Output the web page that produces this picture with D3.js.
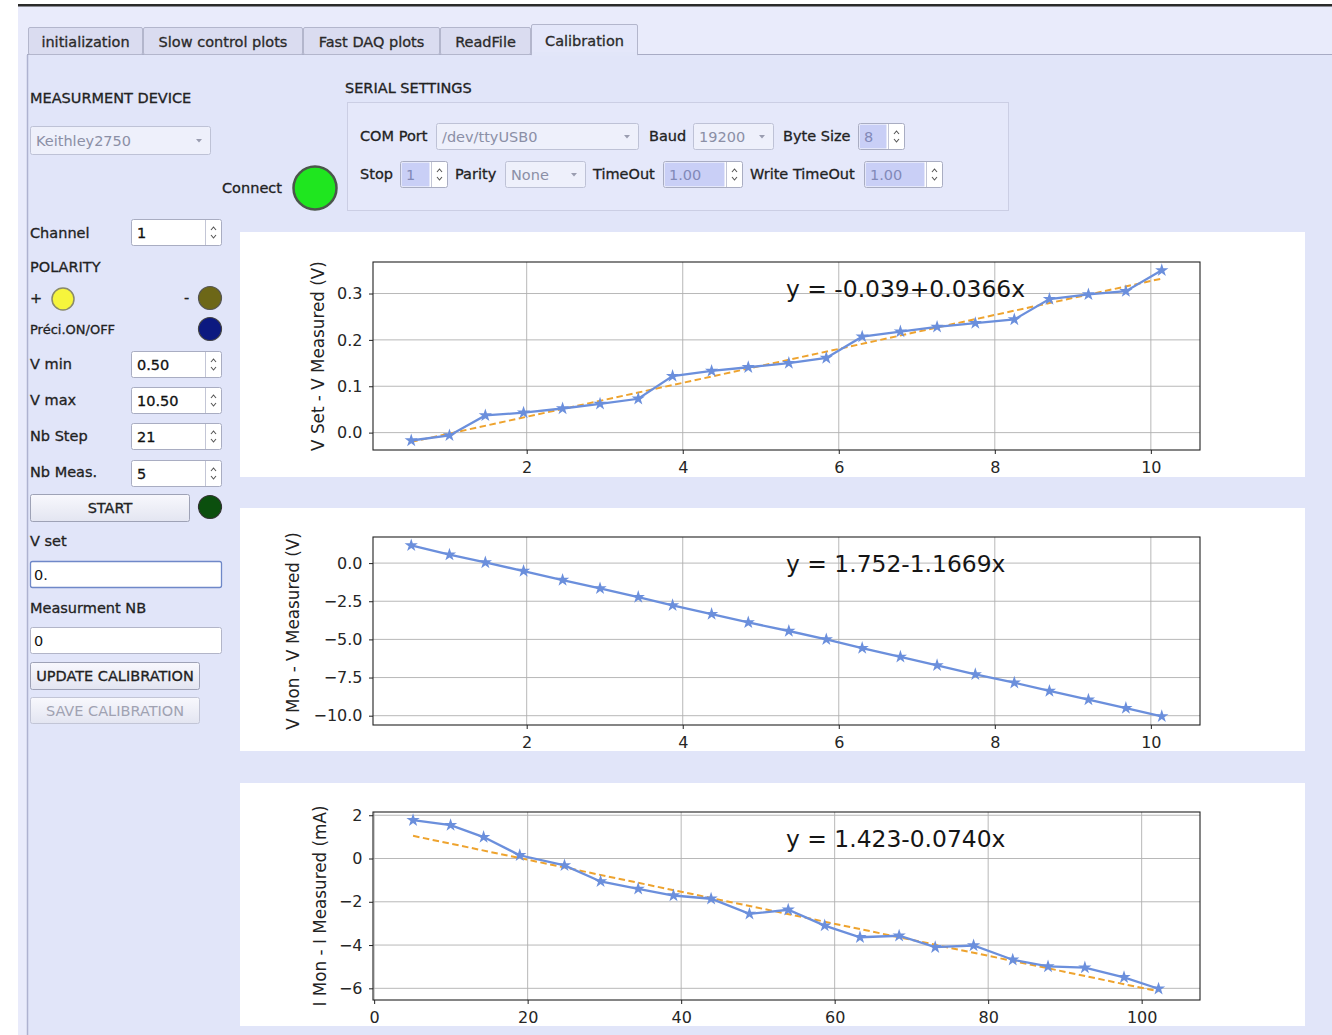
<!DOCTYPE html>
<html><head><meta charset="utf-8">
<script src="https://cdn.jsdelivr.net/npm/d3@7"></script>
<style>
html,body{margin:0;padding:0;background:#fff;}
svg{display:block;font-family:"DejaVu Sans",sans-serif;}
</style></head>
<body>
<svg id="root" width="1332" height="1035"></svg>
<script>
// ---------------- DATA ----------------
const tabs = ["initialization","Slow control plots","Fast DAQ plots","ReadFile","Calibration"];
const xVolt = [0.52,1.01,1.47,1.96,2.46,2.94,3.43,3.87,4.37,4.84,5.36,5.84,6.30,6.79,7.26,7.75,8.25,8.70,9.20,9.68,10.14];
const dSet  = [-0.017,-0.006,0.037,0.043,0.052,0.062,0.073,0.122,0.133,0.141,0.150,0.161,0.207,0.218,0.228,0.236,0.244,0.288,0.298,0.305,0.350];
const dMon  = [1.16,0.55,0.04,-0.52,-1.11,-1.66,-2.23,-2.77,-3.34,-3.89,-4.45,-5.00,-5.57,-6.14,-6.70,-7.29,-7.84,-8.38,-8.95,-9.50,-10.04];
const xCurr = [5.07,9.96,14.26,18.97,24.8,29.5,34.4,39.0,43.9,48.9,53.95,58.7,63.3,68.4,73.1,78.1,83.2,87.8,92.6,97.7,102.2];
const dCurr = [1.77,1.54,0.99,0.15,-0.32,-1.06,-1.40,-1.71,-1.86,-2.56,-2.37,-3.10,-3.64,-3.57,-4.10,-4.02,-4.68,-4.99,-5.04,-5.49,-6.02];
const fitSet  = [-0.039, 0.0366];
const fitMon  = [1.752, -1.1669];
const fitCurr = [1.423, -0.0740];
const ticksXVolt = [2,4,6,8,10];
const ticksXCurr = [0,20,40,60,80,100];
const ticksSet  = [0.0,0.1,0.2,0.3];
const ticksMon  = [0.0,-2.5,-5.0,-7.5,-10.0];
const ticksCurr = [2,0,-2,-4,-6];

// ---------------- UI ----------------
const svg = d3.select("#root");
const defs = svg.append("defs");
const g1 = defs.append("linearGradient").attr("id","btn").attr("x1",0).attr("y1",0).attr("x2",0).attr("y2",1);
g1.append("stop").attr("offset","0%").attr("stop-color","#f8f8fd");
g1.append("stop").attr("offset","100%").attr("stop-color","#e3e5f1");

svg.append("rect").attr("x",0).attr("y",0).attr("width",1332).attr("height",1035).attr("fill","#ffffff");
svg.append("rect").attr("x",18).attr("y",6).attr("width",1314).attr("height",1029).attr("fill","#e9ebfb");
svg.append("rect").attr("x",18).attr("y",4).attr("width",1314).attr("height",2.5).attr("fill","#2a2a2a");
svg.append("rect").attr("x",27).attr("y",55).attr("width",1305).attr("height",980).attr("fill","#e1e5f9");
svg.append("line").attr("x1",27.5).attr("x2",27.5).attr("y1",55).attr("y2",1035).attr("stroke","#aeb2d0").attr("stroke-width",1.5);
svg.append("line").attr("x1",27).attr("x2",1332).attr("y1",54.5).attr("y2",54.5).attr("stroke","#a8abc4").attr("stroke-width",1.2);

const TXT_STROKE = 0.3;
const tabX = [28,143,303,440,531,638];
tabs.forEach((t,i)=>{
  const sel = i===4;
  const x0=tabX[i], x1=tabX[i+1];
  svg.append("rect").attr("x",x0+0.5).attr("y",sel?24.5:27.5).attr("width",x1-x0-1).attr("height",sel?31:27)
    .attr("fill",sel?"#e4e7fa":"#dadcf0").attr("stroke","#b3b6cc").attr("stroke-width",1).attr("rx",1.5);
  if(sel) svg.append("rect").attr("x",x0+1).attr("y",52).attr("width",x1-x0-2).attr("height",4).attr("fill","#e2e6f9");
  svg.append("text").attr("x",(x0+x1)/2).attr("y",sel?46:47).attr("text-anchor","middle")
    .attr("font-size",14.5).attr("fill","#2a2a2a").attr("stroke","#2a2a2a").attr("stroke-width",TXT_STROKE).text(t);
});

function label(x,y,t,opt={}){
  const c=opt.color||"#222";
  return svg.append("text").attr("x",x).attr("y",y+5).attr("font-size",opt.size||14.5)
    .attr("fill",c).attr("stroke",c).attr("stroke-width",TXT_STROKE).attr("text-anchor",opt.anchor||"start").text(t);
}
function spin(x,y,w,h,t,opt={}){
  const arrowW=17;
  svg.append("rect").attr("x",x+0.5).attr("y",y+0.5).attr("width",w-1).attr("height",h-1).attr("rx",2)
    .attr("fill","#ffffff").attr("stroke","#a9adc2");
  if(opt.blue) svg.append("rect").attr("x",x+1.5).attr("y",y+1.5).attr("width",w-arrowW-3).attr("height",h-3).attr("fill","#c9cff6");
  svg.append("line").attr("x1",x+w-arrowW+0.5).attr("x2",x+w-arrowW+0.5).attr("y1",y+1).attr("y2",y+h-1).attr("stroke","#c3c6d6");
  const cx=x+w-arrowW/2, cy=y+h/2;
  svg.append("path").attr("d",`M${cx-2.5},${cy-2.5} L${cx},${cy-5.5} L${cx+2.5},${cy-2.5}`).attr("fill","none").attr("stroke","#555").attr("stroke-width",1.1);
  svg.append("path").attr("d",`M${cx-2.5},${cy+2.5} L${cx},${cy+5.5} L${cx+2.5},${cy+2.5}`).attr("fill","none").attr("stroke","#555").attr("stroke-width",1.1);
  const c=opt.color||"#111";
  svg.append("text").attr("x",x+6).attr("y",y+h/2+5).attr("font-size",opt.size||14.5)
    .attr("fill",c).attr("stroke",opt.blue?"none":c).attr("stroke-width",TXT_STROKE).text(t);
}
function combo(x,y,w,h,t){
  svg.append("rect").attr("x",x+0.5).attr("y",y+0.5).attr("width",w-1).attr("height",h-1).attr("rx",2)
    .attr("fill","#eef0fb").attr("stroke","#bec2d6");
  svg.append("text").attr("x",x+6).attr("y",y+h/2+5).attr("font-size",14.5).attr("fill","#8b8fa6").text(t);
  const cx=x+w-12, cy=y+h/2;
  svg.append("path").attr("d",`M${cx-3},${cy-1.5} L${cx+3},${cy-1.5} L${cx},${cy+2}Z`).attr("fill","#9a9db0");
}
function button(x,y,w,h,t,disabled){
  svg.append("rect").attr("x",x+0.5).attr("y",y+0.5).attr("width",w-1).attr("height",h-1).attr("rx",2)
    .attr("fill","url(#btn)").attr("stroke",disabled?"#c2c5d6":"#9ea2b6");
  const c=disabled?"#a0a2b2":"#222";
  svg.append("text").attr("x",x+w/2).attr("y",y+h/2+5).attr("text-anchor","middle").attr("font-size",14.5)
    .attr("fill",c).attr("stroke",disabled?"none":c).attr("stroke-width",TXT_STROKE).text(t);
}
function lineEdit(x,y,w,h,t,focus){
  svg.append("rect").attr("x",x+0.5).attr("y",y+0.5).attr("width",w-1).attr("height",h-1).attr("rx",2)
    .attr("fill","#fff").attr("stroke",focus?"#6f88c8":"#b2b5c8").attr("stroke-width",focus?1.3:1);
  svg.append("text").attr("x",x+4).attr("y",y+h/2+5).attr("font-size",14.5).attr("fill","#111").text(t);
}
function led(cx,cy,r,fill,stroke,sw){
  svg.append("circle").attr("cx",cx).attr("cy",cy).attr("r",r).attr("fill",fill).attr("stroke",stroke).attr("stroke-width",sw||1.5);
}

label(30,98,"MEASURMENT DEVICE");
combo(30,126,181,29,"Keithley2750");
label(222,188,"Connect");
led(315,188,21.5,"#1fe61f","#4b564b",2.5);
label(345,88,"SERIAL SETTINGS");
svg.append("rect").attr("x",347.5).attr("y",102.5).attr("width",661).attr("height",108).attr("fill","#e5e8fa").attr("stroke","#cbcee4");

label(360,136,"COM Port"); combo(436,123,203,27,"/dev/ttyUSB0");
label(649,136,"Baud"); combo(693,123,81,27,"19200");
label(783,136,"Byte Size"); spin(858,123,47,27,"8",{blue:true,color:"#8289b8"});
label(360,174,"Stop"); spin(400,161,48,27,"1",{blue:true,color:"#8289b8"});
label(455,174,"Parity"); combo(505,161,81,27,"None");
label(593,174,"TimeOut"); spin(663,161,80,27,"1.00",{blue:true,color:"#8289b8"});
label(750,174,"Write TimeOut"); spin(864,161,79,27,"1.00",{blue:true,color:"#8289b8"});

label(30,233,"Channel"); spin(131,219,91,27,"1");
label(30,267,"POLARITY");
label(30,298,"+"); led(63,299,11,"#f6f53c","#8a8a6a",1.5);
label(184,298,"-"); led(210,298,11.5,"#6d6717","#555",1.2);
label(30,329,"Préci.ON/OFF",{size:13}); led(210,329,11.5,"#0c1980","#444",1.2);
label(30,364,"V min"); spin(131,351,91,27,"0.50");
label(30,400,"V max"); spin(131,387,91,27,"10.50");
label(30,436,"Nb Step"); spin(131,423,91,27,"21");
label(30,472,"Nb Meas."); spin(131,460,91,27,"5");
button(30,494,160,28,"START");
led(210,507,11.5,"#0b4f0e","#333",1.2);
label(30,541,"V set");
lineEdit(30,561,192,27,"0.",true);
label(30,608,"Measurment NB");
lineEdit(30,627,192,27,"0",false);
button(30,662,170,28,"UPDATE CALIBRATION");
button(30,697,170,27,"SAVE CALIBRATION",true);

// ---------------- CHARTS ----------------
const lineColor="#6b8fdc", fitColor="#eea32e";
function chart(cfg){
  svg.append("rect").attr("x",240).attr("y",cfg.panel[0]).attr("width",1065).attr("height",cfg.panel[1]-cfg.panel[0]).attr("fill","#ffffff");
  const L=373,R=1200,T=cfg.top,B=cfg.top+cfg.h;
  const x=d3.scaleLinear().domain(cfg.xd).range([L,R]);
  const y=d3.scaleLinear().domain(cfg.yd).range([B,T]);
  const g=svg.append("g");
  g.selectAll(".gx").data(cfg.xt).join("line").attr("x1",d=>x(d)).attr("x2",d=>x(d)).attr("y1",T).attr("y2",B).attr("stroke","#b0b0b0").attr("stroke-width",0.9);
  g.selectAll(".gy").data(cfg.yt).join("line").attr("y1",d=>y(d)).attr("y2",d=>y(d)).attr("x1",L).attr("x2",R).attr("stroke","#b0b0b0").attr("stroke-width",0.9);
  if(cfg.fit){
    const x0=cfg.xs[0], x1=cfg.xs[cfg.xs.length-1];
    const f=d=>cfg.fit[0]+cfg.fit[1]*d;
    g.append("line").attr("x1",x(x0)).attr("y1",y(f(x0))).attr("x2",x(x1)).attr("y2",y(f(x1)))
      .attr("stroke",fitColor).attr("stroke-width",2).attr("stroke-dasharray","6.5,3.5");
  }
  const pts=cfg.xs.map((d,i)=>[d,cfg.ys[i]]);
  g.append("path").attr("d",d3.line().x(d=>x(d[0])).y(d=>y(d[1]))(pts)).attr("fill","none").attr("stroke",lineColor).attr("stroke-width",2.3);
  g.selectAll(".m").data(pts).join("path").attr("d",d3.symbol(d3.symbolStar,55))
    .attr("transform",d=>`translate(${x(d[0])},${y(d[1])})`).attr("fill",lineColor);
  const ax=g.append("g").attr("transform",`translate(0,${B})`).call(d3.axisBottom(x).tickValues(cfg.xt).tickSize(4).tickPadding(7.5).tickFormat(d=>d3.format("d")(d)));
  const ay=g.append("g").attr("transform",`translate(${L},0)`).call(d3.axisLeft(y).tickValues(cfg.yt).tickSize(4).tickPadding(6.5).tickFormat(cfg.yf));
  [ax,ay].forEach(a=>{
    a.select(".domain").remove();
    a.selectAll("line").attr("stroke","#222").attr("stroke-width",1);
    a.selectAll("text").attr("font-size",16).attr("fill","#262626").attr("font-family","DejaVu Sans");
  });
  g.append("rect").attr("x",L).attr("y",T).attr("width",R-L).attr("height",B-T).attr("fill","none").attr("stroke","#222").attr("stroke-width",1.1);
  g.append("text").attr("transform",`translate(${cfg.ylx},${(T+B)/2}) rotate(-90)`).attr("text-anchor","middle")
    .attr("dy","0.35em").attr("font-size",16.8).attr("fill","#222").text(cfg.ylabel);
  g.append("text").attr("x",786).attr("y",T+35).attr("font-size",23.4).attr("fill","#151515").text(cfg.eq);
}
const minus=s=>s.replace("-","\u2212");
chart({panel:[232,477],top:262,h:188,xd:[0.03,10.63],yd:[-0.0375,0.368],xs:xVolt,ys:dSet,fit:fitSet,
  xt:ticksXVolt,yt:ticksSet,yf:d=>minus(d3.format(".1f")(d)),ylx:318,ylabel:"V Set - V Measured (V)",eq:"y = -0.039+0.0366x"});
chart({panel:[508,751],top:537,h:188,xd:[0.03,10.63],yd:[-10.61,1.71],xs:xVolt,ys:dMon,fit:null,
  xt:ticksXVolt,yt:ticksMon,yf:d=>minus(d3.format(".1f")(d)),ylx:293,ylabel:"V Mon - V Measured (V)",eq:"y = 1.752-1.1669x"});
chart({panel:[783,1026],top:812,h:188,xd:[-0.15,107.6],yd:[-6.54,2.15],xs:xCurr,ys:dCurr,fit:fitCurr,
  xt:ticksXCurr,yt:ticksCurr,yf:d=>minus(d3.format("d")(d)),ylx:320,ylabel:"I Mon - I Measured (mA)",eq:"y = 1.423-0.0740x"});
</script>
</body></html>
